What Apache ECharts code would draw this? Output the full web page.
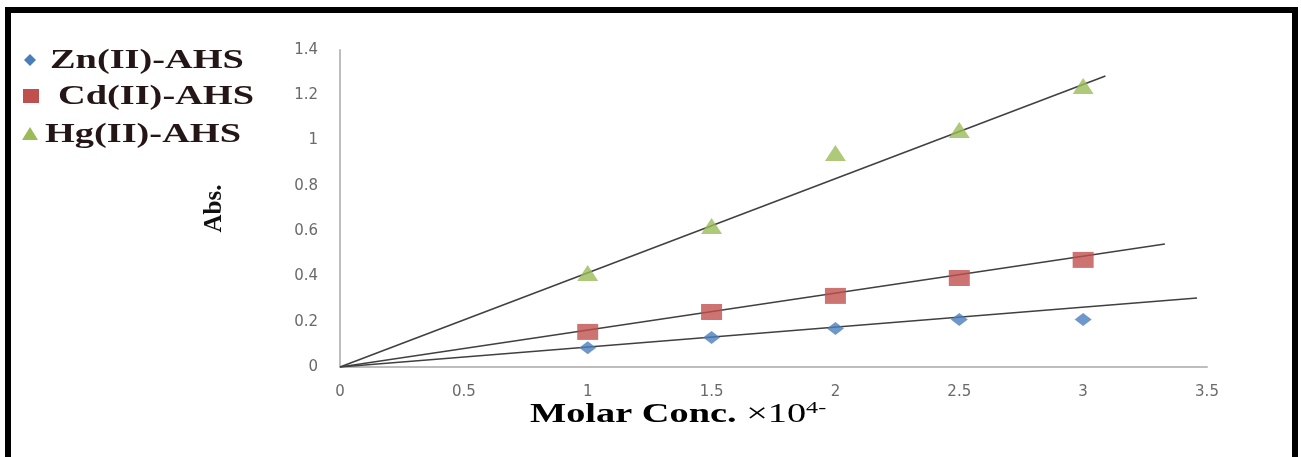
<!DOCTYPE html>
<html>
<head>
<meta charset="utf-8">
<script src="https://cdn.jsdelivr.net/npm/echarts@6/dist/echarts.min.js"></script>
<style>
html,body{margin:0;padding:0;background:#fff;}
#frame{position:absolute;left:5px;top:7px;width:1281px;height:450px;border-top:6px solid #000;border-left:6px solid #000;border-right:6px solid #000;}
#chart{position:absolute;left:0;top:0;width:1301px;height:457px;}
</style>
</head>
<body>
<div id="frame"></div>
<div id="chart"></div>
<script>
const xValues = [1, 1.5, 2, 2.5, 3];
const znValues = [0.085, 0.13, 0.17, 0.21, 0.21];
const cdValues = [0.155, 0.243, 0.314, 0.393, 0.473];
const hgValues = [0.415, 0.623, 0.945, 1.047, 1.241];
// trendlines (through origin) as two end points [x, y]
const znTrend = [[0, 0], [3.46, 0.305]];
const cdTrend = [[0, 0], [3.33, 0.543]];
const hgTrend = [[0, 0], [3.09, 1.285]];
const seriesNames = ['Zn(II)-AHS', 'Cd(II)-AHS', 'Hg(II)-AHS'];
const colors = ['#4a7ebb', '#c0504d', '#9bbb59'];

const pts = v => xValues.map((x, i) => [x, v[i]]);
const chart = echarts.init(document.getElementById('chart'));
const trendStyle = {color: '#404040', width: 1.6};
const SX = 1.42;
const legendFont = {fontFamily: 'Liberation Serif', fontWeight: 'bold', fontSize: 27, fill: '#241616', verticalAlign: 'middle'};

chart.setOption({
  animation: false,
  backgroundColor: 'transparent',
  grid: {left: 340, top: 50, right: 94, bottom: 90, containLabel: false},
  xAxis: {
    type: 'value', min: 0, max: 3.5, interval: 0.5,
    axisLine: {lineStyle: {color: '#bdbdbd', width: 2}},
    axisTick: {show: false}, splitLine: {show: false},
    axisLabel: {color: '#6a6a6a', fontSize: 15, fontFamily: 'DejaVu Sans', margin: 18}
  },
  yAxis: {
    type: 'value', min: 0, max: 1.4, interval: 0.2,
    axisLine: {show: true, lineStyle: {color: '#bdbdbd', width: 2}},
    axisTick: {show: false}, splitLine: {show: false},
    axisLabel: {color: '#6a6a6a', fontSize: 15, fontFamily: 'DejaVu Sans', margin: 22},
    name: 'Abs.', nameLocation: 'middle', nameGap: 113, nameRotate: 90,
    nameTextStyle: {fontFamily: 'Liberation Serif', fontWeight: 'bold', fontSize: 25, color: '#111'}
  },
  graphic: [
    // legend
    {type: 'polygon', shape: {points: [[30, 54], [36, 60], [30, 66], [24, 60]]}, style: {fill: colors[0]}},
    {type: 'text', x: 50, y: 61, scaleX: SX, style: Object.assign({text: seriesNames[0]}, legendFont)},
    {type: 'rect', shape: {x: 23, y: 89, width: 16, height: 14}, style: {fill: colors[1]}},
    {type: 'text', x: 58, y: 97, scaleX: SX, style: Object.assign({text: seriesNames[1]}, legendFont)},
    {type: 'polygon', shape: {points: [[30, 127], [38, 140], [22, 140]]}, style: {fill: colors[2]}},
    {type: 'text', x: 45, y: 135, scaleX: SX, style: Object.assign({text: seriesNames[2]}, legendFont)},
    // x axis title
    {
      type: 'text', x: 530, y: 415, scaleX: 1.42,
      style: {
        verticalAlign: 'middle',
        rich: {
          a: {fontFamily: 'Liberation Serif', fontWeight: 'bold', fontSize: 27, color: '#111'},
          b: {fontFamily: 'Liberation Serif', fontSize: 27, color: '#111'},
          s: {fontFamily: 'Liberation Serif', fontSize: 17, color: '#111', verticalAlign: 'top', padding: [0, 0, 12, 0]}
        },
        text: '{a|Molar Conc. }{b|×10}{s|4-}'
      }
    }
  ],
  series: [
    {name: 'znTrend', type: 'line', data: znTrend, symbol: 'none', lineStyle: trendStyle, z: 3},
    {name: 'cdTrend', type: 'line', data: cdTrend, symbol: 'none', lineStyle: trendStyle, z: 3},
    {name: 'hgTrend', type: 'line', data: hgTrend, symbol: 'none', lineStyle: trendStyle, z: 3},
    {name: seriesNames[0], type: 'scatter', data: pts(znValues), symbol: 'diamond', symbolSize: [17, 13], itemStyle: {color: colors[0]}, z: 4},
    {name: seriesNames[1], type: 'scatter', data: pts(cdValues), symbol: 'rect', symbolSize: [21, 16], itemStyle: {color: colors[1]}, z: 4},
    {name: seriesNames[2], type: 'scatter', data: pts(hgValues), symbol: 'triangle', symbolSize: [21, 16], itemStyle: {color: colors[2]}, z: 4}
  ]
});
</script>
</body>
</html>
